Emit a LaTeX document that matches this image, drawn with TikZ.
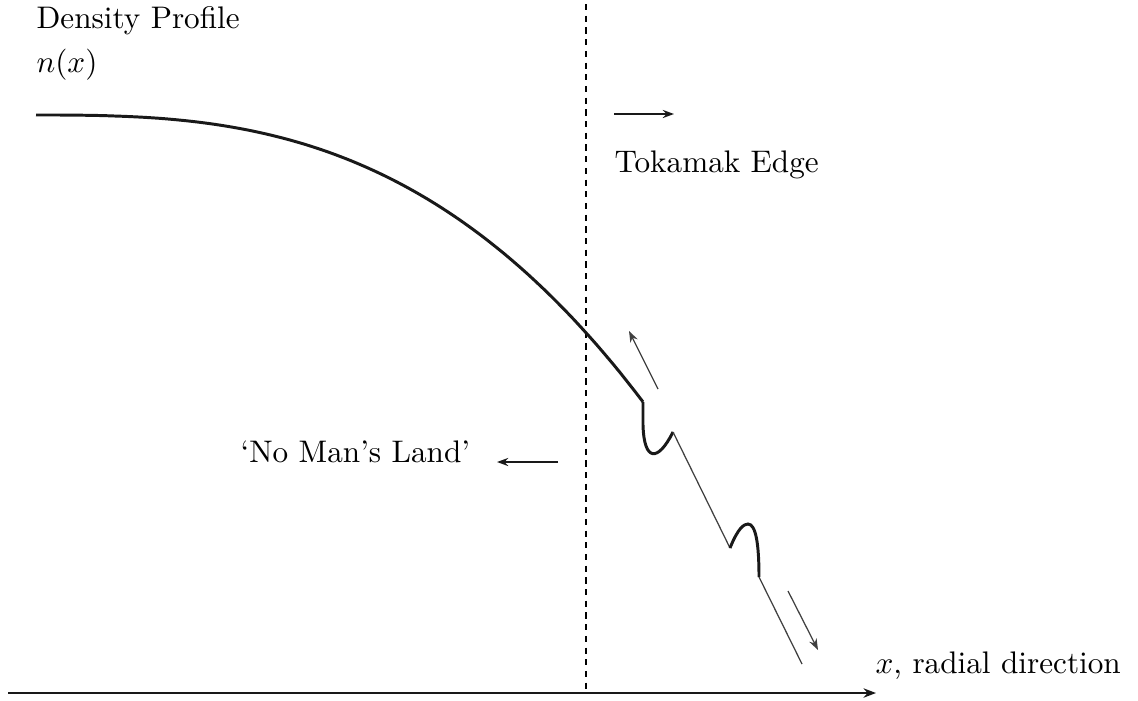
\documentclass[tikz,border=0pt]{standalone}
\usetikzlibrary{arrows.meta}
\begin{document}
\begin{tikzpicture}[x=0.3205pt,y=-0.3205pt,
  lbl/.style={anchor=base west,inner sep=0pt,font=\fontsize{10}{12}\selectfont},
  thick curve/.style={line width=0.95pt,black!90},
  thin seg/.style={line width=0.4pt,black!75},
  thin arrow/.style={line width=0.4pt,black!75,-{Stealth[length=3.6pt,width=2.6pt]}},
  axisline/.style={line width=0.75pt,black!90,-{Stealth[length=4pt,width=3pt]}},
  bigarrow/.style={line width=0.7pt,black!90,-{Stealth[length=3.6pt,width=2.6pt]}}]
\useasboundingbox (0,0) rectangle (1138,700);
% labels
\node[lbl] (dp) at (36,28) {Density Profile};
\node[lbl] (nx) at (36,72) {$n(x)$};
\node[lbl] (te) at (614,172) {Tokamak Edge};
\node[lbl] (nml) at (240,462) {`No Man's Land'};
\node[lbl] (xr) at (875,673) {$x$, radial direction};
% coordinates
\coordinate (dtop) at (586,4);
\coordinate (dbot) at (586,693);
\coordinate (a0) at (8,693);
\coordinate (a1) at (876,693);
\coordinate (t0) at (614,114);
\coordinate (t1) at (674,114);
\coordinate (m0) at (558,462);
\coordinate (m1) at (497,462);
\coordinate (c0) at (643,402);
\coordinate (c1) at (673,432);
\coordinate (c2) at (730,548);
\coordinate (c3) at (759,577);
\coordinate (c4) at (802,664);
\coordinate (u0) at (658,389);
\coordinate (u1) at (629,331);
\coordinate (d0) at (788,591);
\coordinate (d1) at (818,650);
% dashed edge line
\draw[line width=0.7pt,dash pattern=on 2pt off 1.75pt] (dtop) -- (dbot);
% axis
\draw[axisline] (a0) -- (a1);
% arrows
\draw[bigarrow,line width=0.6pt] (t0) -- (t1);
\draw[bigarrow] (m0) -- (m1);
% profile
\draw[thick curve] plot[domain=36:643,samples=80] (\x,{115+287*pow((\x-36)/607,2.8)});
\draw[thick curve] (c0) -- (643,425) .. controls (644,462) and (658,462) .. (c1);
\draw[thin seg] (c1) -- (c2);
\draw[thick curve] (c2) .. controls (738,528) and (744,524) .. (748,524) .. controls (756,524) and (759,545) .. (c3);
\draw[thin seg] (c3) -- (c4);
\draw[thin arrow] (u0) -- (u1);
\draw[thin arrow] (d0) -- (d1);
\end{tikzpicture}
\end{document}
